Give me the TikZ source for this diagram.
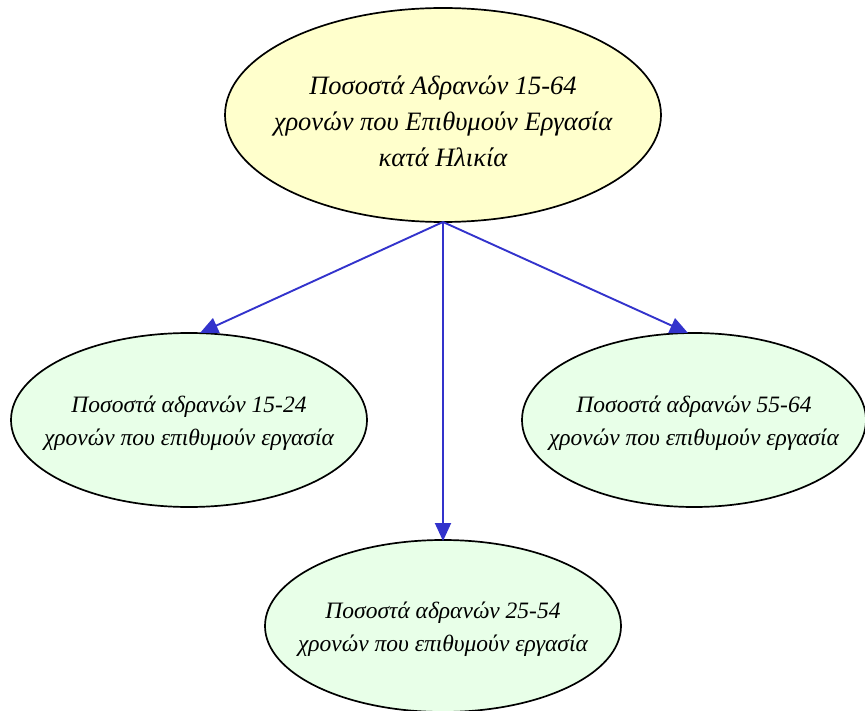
\documentclass[tikz,border=0pt]{standalone}
\usepackage{fontspec}
\setmainfont{Liberation Serif}
\usetikzlibrary{arrows.meta}
\definecolor{topfill}{HTML}{FFFFCC}
\definecolor{leaffill}{HTML}{E8FFE8}
\definecolor{edgeblue}{HTML}{3333CC}
\begin{document}
\begin{tikzpicture}[x=1pt,y=-1pt,
  oval/.style={draw=black, line width=1.7pt, inner sep=0pt, align=center, font=\itshape},
  topoval/.style={oval, fill=topfill, font=\fontsize{26.5}{36}\itshape\selectfont},
  leafoval/.style={oval, fill=leaffill, font=\fontsize{23.5}{33}\itshape\selectfont},
  link/.style={draw=edgeblue, line width=1.9pt, -{Triangle[length=18pt,width=16pt]}}]
\useasboundingbox (0,0) rectangle (865,711);
\draw[topoval] (443,115) ellipse [x radius=218, y radius=107];
\node[topoval, draw=none, fill=none] (top) at (443,121) {Ποσοστά Αδρανών 15-64\\χρονών που Επιθυμούν Εργασία\\κατά Ηλικία};
\coordinate (topS) at (443,222);
\draw[leafoval] (189,420) ellipse [x radius=178, y radius=87];
\node[leafoval, draw=none, fill=none] (left) at (189,423) {Ποσοστά αδρανών 15-24\\χρονών που επιθυμούν εργασία};
\coordinate (leftN) at (200,333);
\draw[leafoval] (694,420) ellipse [x radius=172, y radius=87];
\node[leafoval, draw=none, fill=none] (right) at (694,423) {Ποσοστά αδρανών 55-64\\χρονών που επιθυμούν εργασία};
\coordinate (rightN) at (688,333);
\draw[leafoval] (443,626) ellipse [x radius=178, y radius=86];
\node[leafoval, draw=none, fill=none] (bottom) at (443,629) {Ποσοστά αδρανών 25-54\\χρονών που επιθυμούν εργασία};
\coordinate (bottomN) at (443,541);
\draw[link] (topS) -- (leftN);
\draw[link] (topS) -- (bottomN);
\draw[link] (topS) -- (rightN);
\end{tikzpicture}
\end{document}
